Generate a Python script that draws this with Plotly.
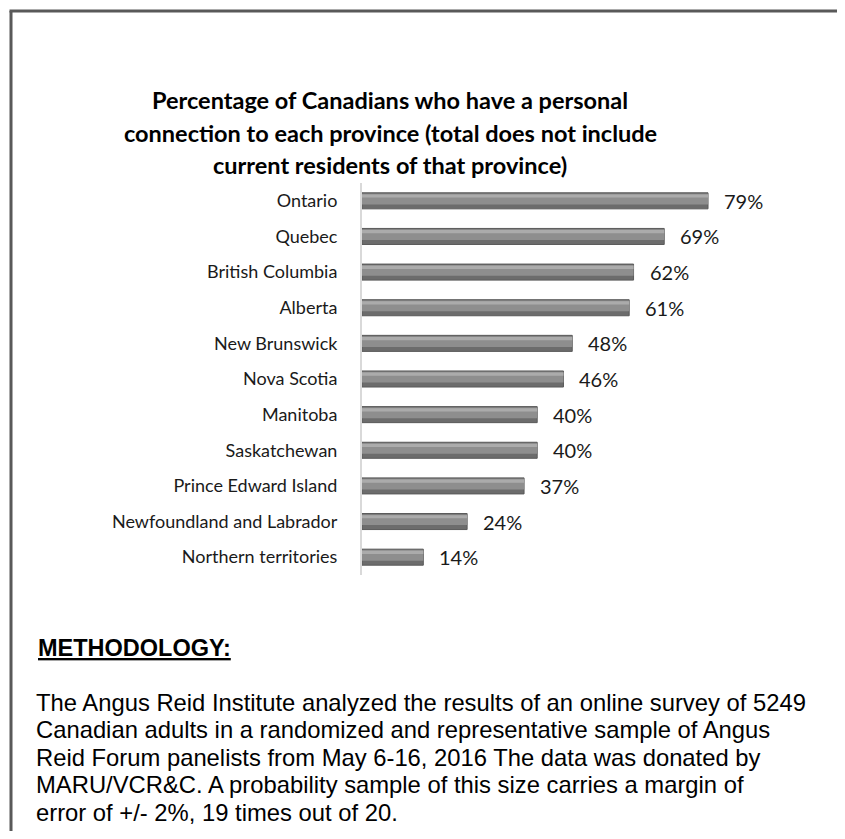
import plotly.graph_objects as go

categories = ["Ontario", "Quebec", "British Columbia", "Alberta", "New Brunswick",
              "Nova Scotia", "Manitoba", "Saskatchewan", "Prince Edward Island",
              "Newfoundland and Labrador", "Northern territories"]
values = [79, 69, 62, 61, 48, 46, 40, 40, 37, 24, 14]
labels = [f"{v}%" for v in values]

title_lines = ["Percentage of Canadians who have a personal",
               "connection to each province (total does not include",
               "current residents of that province)"]
method_head = "METHODOLOGY:"
method_lines = ["The Angus Reid Institute analyzed the results of an online survey of 5249",
                "Canadian adults in a randomized and representative sample of Angus",
                "Reid Forum panelists from May 6-16, 2016 The data was donated by",
                "MARU/VCR&C. A probability sample of this size carries a margin of",
                "error of +/- 2%, 19 times out of 20."]

OFF = 8  # page body margin
W, H = 845 - 2 * OFF, 839 - 2 * OFF
# plot area in screen pixels
SX0, SX1, SY0, SY1 = 362, 800, 183, 575
L, R, T, B = SX0 - OFF, W - (SX1 - OFF), SY0 - OFF, H - (SY1 - OFF)
PW, PH = W - L - R, H - T - B


def px(x):
    return (x - OFF - L) / PW


def py(y):
    return 1 - (y - OFF - T) / PH


CAT_FONT = "Lato"
fig = go.Figure()
bw = 0.45
fig.add_trace(go.Bar(y=categories, x=values, orientation="h", width=bw, offset=-bw / 2,
                     marker=dict(color="#6c6c6c", line=dict(color="#5a5a5a", width=1)),
                     hoverinfo="skip"))
fig.add_trace(go.Bar(y=categories, x=values, orientation="h", width=0.30, offset=-0.20,
                     marker=dict(color="#8e8e8e", line=dict(width=0)), hoverinfo="skip"))
fig.add_trace(go.Bar(y=categories, x=values, orientation="h", width=0.09, offset=-0.18,
                     marker=dict(color="#ababab", line=dict(width=0)), hoverinfo="skip"))

annotations = []
for c, v, t in zip(categories, values, labels):
    annotations.append(dict(x=v, y=c, xref="x", yref="y", text=t, showarrow=False,
                            xanchor="left", xshift=14,
                            font=dict(family=CAT_FONT, size=20, color="#1a1a1a")))

for i, line in enumerate(title_lines):
    annotations.append(dict(x=px(390), y=py(100 + i * 32.5), xref="paper", yref="paper",
                            text=f"<b>{line}</b>", showarrow=False, xanchor="center",
                            yanchor="middle",
                            font=dict(family=CAT_FONT, size=23.5, color="#000000")))

annotations.append(dict(x=px(36), y=py(648), xref="paper", yref="paper",
                        text=f"<b><u>{method_head}</u></b>", showarrow=False,
                        xanchor="left", yanchor="middle",
                        font=dict(family="Liberation Sans", size=23.5, color="#000000")))
for i, line in enumerate(method_lines):
    annotations.append(dict(x=px(34), y=py(702 + i * 27.5), xref="paper", yref="paper",
                            text=line, showarrow=False, xanchor="left", yanchor="middle",
                            font=dict(family="Liberation Sans", size=23.8, color="#000000")))

shapes = [
    dict(type="line", xref="paper", yref="paper", x0=px(11), y0=py(H + 40),
         x1=px(11), y1=py(11), line=dict(color="#595959", width=3)),
    dict(type="line", xref="paper", yref="paper", x0=px(9.5), y0=py(11),
         x1=px(W + 40), y1=py(11), line=dict(color="#595959", width=3)),
]

fig.update_layout(
    width=W, height=H, margin=dict(l=L, r=R, t=T, b=B),
    paper_bgcolor="white", plot_bgcolor="white", showlegend=False,
    barmode="overlay",
    xaxis=dict(range=[0, 100], visible=False, fixedrange=True),
    yaxis=dict(autorange="reversed", showline=True, linecolor="#d9d9d9", linewidth=2,
               showgrid=False, ticks="", ticklabelstandoff=19,
               tickfont=dict(family=CAT_FONT, size=18, color="#1a1a1a")),
    annotations=annotations, shapes=shapes,
)

fig.write_html("out.html")
